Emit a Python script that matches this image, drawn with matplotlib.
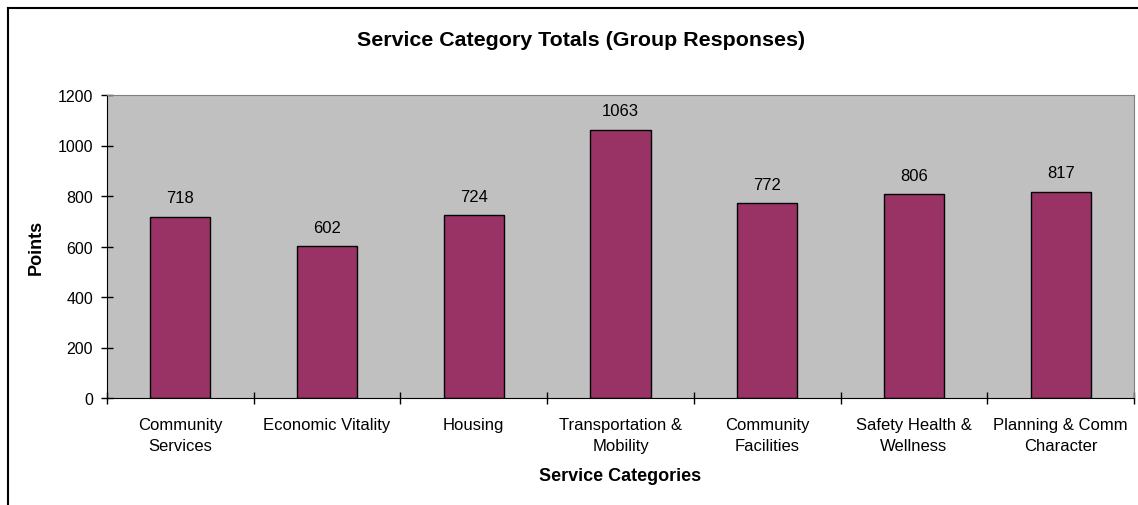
import matplotlib.pyplot as plt
import numpy as np

plt.rcParams['font.family'] = ['Liberation Sans', 'DejaVu Sans']

categories = ['Community\nServices', 'Economic Vitality', 'Housing',
              'Transportation &\nMobility', 'Community\nFacilities',
              'Safety Health &\nWellness', 'Planning & Comm\nCharacter']
points = [718, 602, 724, 1063, 772, 806, 817]
yticks = [0, 200, 400, 600, 800, 1000, 1200]

fig = plt.figure(figsize=(11.38, 5.06), dpi=100)
ax = fig.add_axes([107 / 1138, 1 - 399 / 506, (1134 - 107) / 1138, (399 - 96) / 506])

x = np.arange(len(categories))
ax.bar(x, points, width=0.41, color='#993366', edgecolor='black', linewidth=1, zorder=2)
for xi, v in zip(x, points):
    ax.text(xi, v + 45, str(v), ha='center', va='bottom', fontsize=12)

ax.set_facecolor('#C0C0C0')
ax.set_xlim(-0.5, len(categories) - 0.5)
ax.set_ylim(0, 1200)
ax.set_yticks(yticks)
ax.tick_params(axis='y', direction='inout', length=8, width=1, labelsize=11.5, pad=6)

# category ticks sit on the boundaries, labels centred under the bars
ax.set_xticks(np.arange(len(categories) + 1) - 0.5)
ax.set_xticklabels([])
ax.set_xticks(x, minor=True)
ax.set_xticklabels(categories, minor=True, fontsize=12, linespacing=1.45)
ax.tick_params(axis='x', which='major', direction='inout', length=8, width=1)
ax.tick_params(axis='x', which='minor', length=0, pad=14)

for side in ['top', 'right']:
    ax.spines[side].set_color('#808080')
for side in ['left', 'bottom']:
    ax.spines[side].set_color('black')

ax.set_ylabel('Points', fontsize=13, fontweight='bold', labelpad=9)
ax.set_xlabel('Service Categories', fontsize=13, fontweight='bold', labelpad=10)
fig.text(581 / 1138, 1 - 40 / 506, 'Service Category Totals (Group Responses)',
         ha='center', va='center', fontsize=15.4, fontweight='bold')

# chart area frame
fig.add_artist(plt.Line2D([8 / 1138, 8 / 1138], [0, 1 - 9 / 506], color='black', lw=1.5))
fig.add_artist(plt.Line2D([8 / 1138, 1], [1 - 9 / 506, 1 - 9 / 506], color='black', lw=1.5))

plt.savefig('out.png', dpi=100)
